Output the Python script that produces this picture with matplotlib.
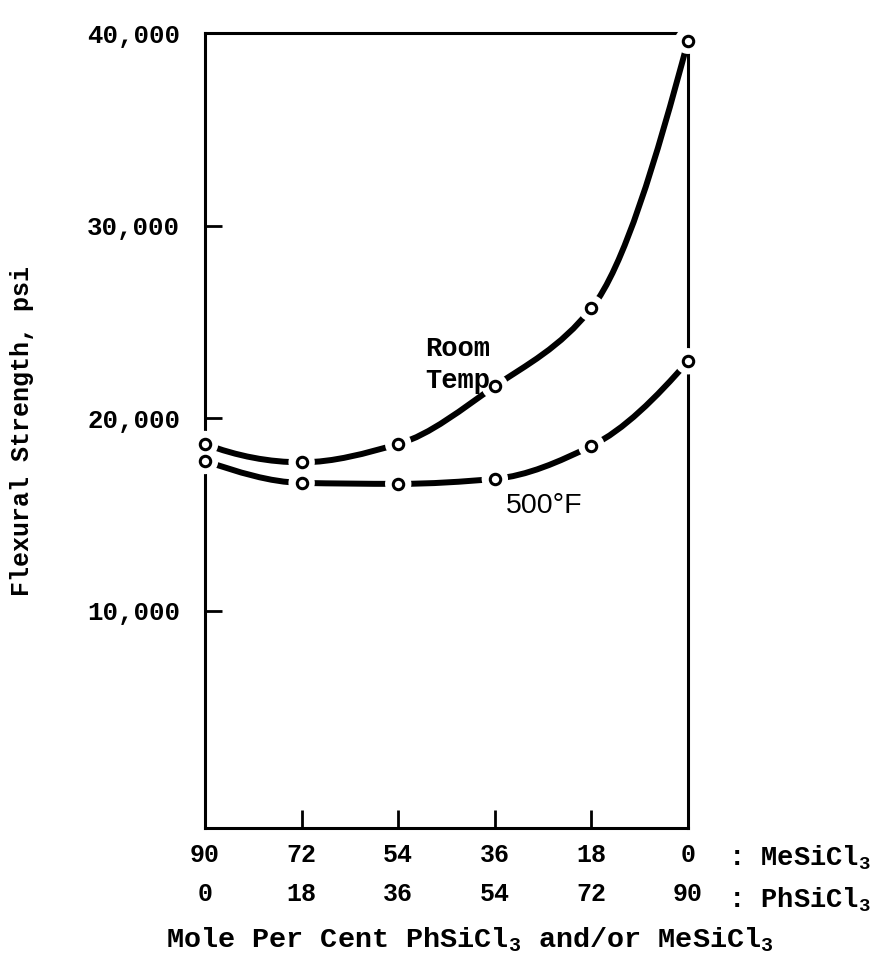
import numpy as np
import matplotlib
matplotlib.use("Agg")
import matplotlib.pyplot as plt
from matplotlib.path import Path
from matplotlib.patches import PathPatch

phsicl3 = [0, 18, 36, 54, 72, 90]
mesicl3 = [90, 72, 54, 36, 18, 0]
# flexural strength, psi
room_temp = [18650, 17700, 18650, 21650, 25700, 39600]
temp_500f = [17770, 16630, 16580, 16840, 18550, 22950]
y_ticks = [10000, 20000, 30000, 40000]
y_labels = ["10,000", "20,000", "30,000", "40,000"]

plt.rcParams["font.family"] = ["Liberation Mono", "DejaVu Sans Mono"]
plt.rcParams["font.weight"] = "bold"
plt.rcParams["mathtext.fontset"] = "custom"
plt.rcParams["mathtext.rm"] = "Liberation Mono:bold"
plt.rcParams["mathtext.it"] = "Liberation Mono:bold"


def smooth_path(x, y):
    # shape-preserving (pchip style) cubic through the points, as beziers
    x = np.asarray(x, float)
    y = np.asarray(y, float)
    h = np.diff(x)
    d = np.diff(y) / h
    m = np.zeros_like(y)
    for k in range(1, len(y) - 1):
        if d[k - 1] * d[k] > 0:
            m[k] = 2 / (1 / d[k - 1] + 1 / d[k])
    m[0] = (3 * d[0] - d[1]) / 2
    m[-1] = (3 * d[-1] - d[-2]) / 2
    verts, codes = [(x[0], y[0])], [Path.MOVETO]
    for i in range(len(x) - 1):
        verts += [(x[i] + h[i] / 3, y[i] + m[i] * h[i] / 3),
                  (x[i + 1] - h[i] / 3, y[i + 1] - m[i + 1] * h[i] / 3),
                  (x[i + 1], y[i + 1])]
        codes += [Path.CURVE4] * 3
    return Path(verts, codes)


fig = plt.figure(figsize=(8.77, 9.72), dpi=100)
ax = fig.add_axes([0.2338, 0.1481, 0.5507, 0.8179])

for yv in (room_temp, temp_500f):
    ax.add_patch(PathPatch(smooth_path(phsicl3, yv), fill=False, lw=4.3,
                           capstyle="round", zorder=2, clip_on=False))
# white discs cut the gaps round each point, then the open circles on top
for yv in (room_temp, temp_500f):
    ax.scatter(phsicl3, yv, s=19 ** 2, c="white", edgecolors="none", zorder=3, clip_on=False)
for yv in (room_temp, temp_500f):
    ax.plot(phsicl3, yv, "o", ms=7.5, mfc="white", mec="black", mew=2.2,
            zorder=4, clip_on=False)

ax.set_xlim(0, 90)
ax.set_ylim(-1300, 40000)
for s in ax.spines.values():
    s.set_linewidth(2.2)

ax.set_yticks(y_ticks)
ax.set_yticklabels(y_labels)
ax.set_xticks(phsicl3)
ax.set_xticklabels([f"{m}\n{p}" for m, p in zip(mesicl3, phsicl3)], linespacing=1.75)
ax.tick_params(axis="y", direction="in", length=12, width=2, pad=18, labelsize=18.5)
ax.tick_params(axis="x", direction="in", length=13, width=2, pad=11, labelsize=18)

ax.annotate(": MeSiCl$_{\\mathrm{3}}$\n: PhSiCl$_{\\mathrm{3}}$", xy=(97.5, 0),
            xycoords=("data", "axes fraction"), xytext=(0, -11),
            textcoords="offset points", ha="left", va="top", fontsize=19.5,
            linespacing=1.6, annotation_clip=False)

ax.text(41.1, 22750, "Room\nTemp", ha="left", va="center", fontsize=19.5,
        linespacing=1.3, zorder=5)
ax.text(56.0, 15440, "500°F", ha="left", va="center", fontsize=20.5,
        family=["Liberation Sans", "DejaVu Sans"], weight="normal", zorder=5)

ax.set_ylabel("Flexural Strength, psi", fontsize=18, va="center", weight="bold")
ax.yaxis.set_label_coords(-0.379, 0.5)
fig.text(470 / 877, 1 - 940 / 972, "Mole Per Cent PhSiCl$_{\\mathrm{3}}$ and/or MeSiCl$_{\\mathrm{3}}$",
         ha="center", va="center", fontsize=20.5)

fig.savefig("out.png", dpi=100)
